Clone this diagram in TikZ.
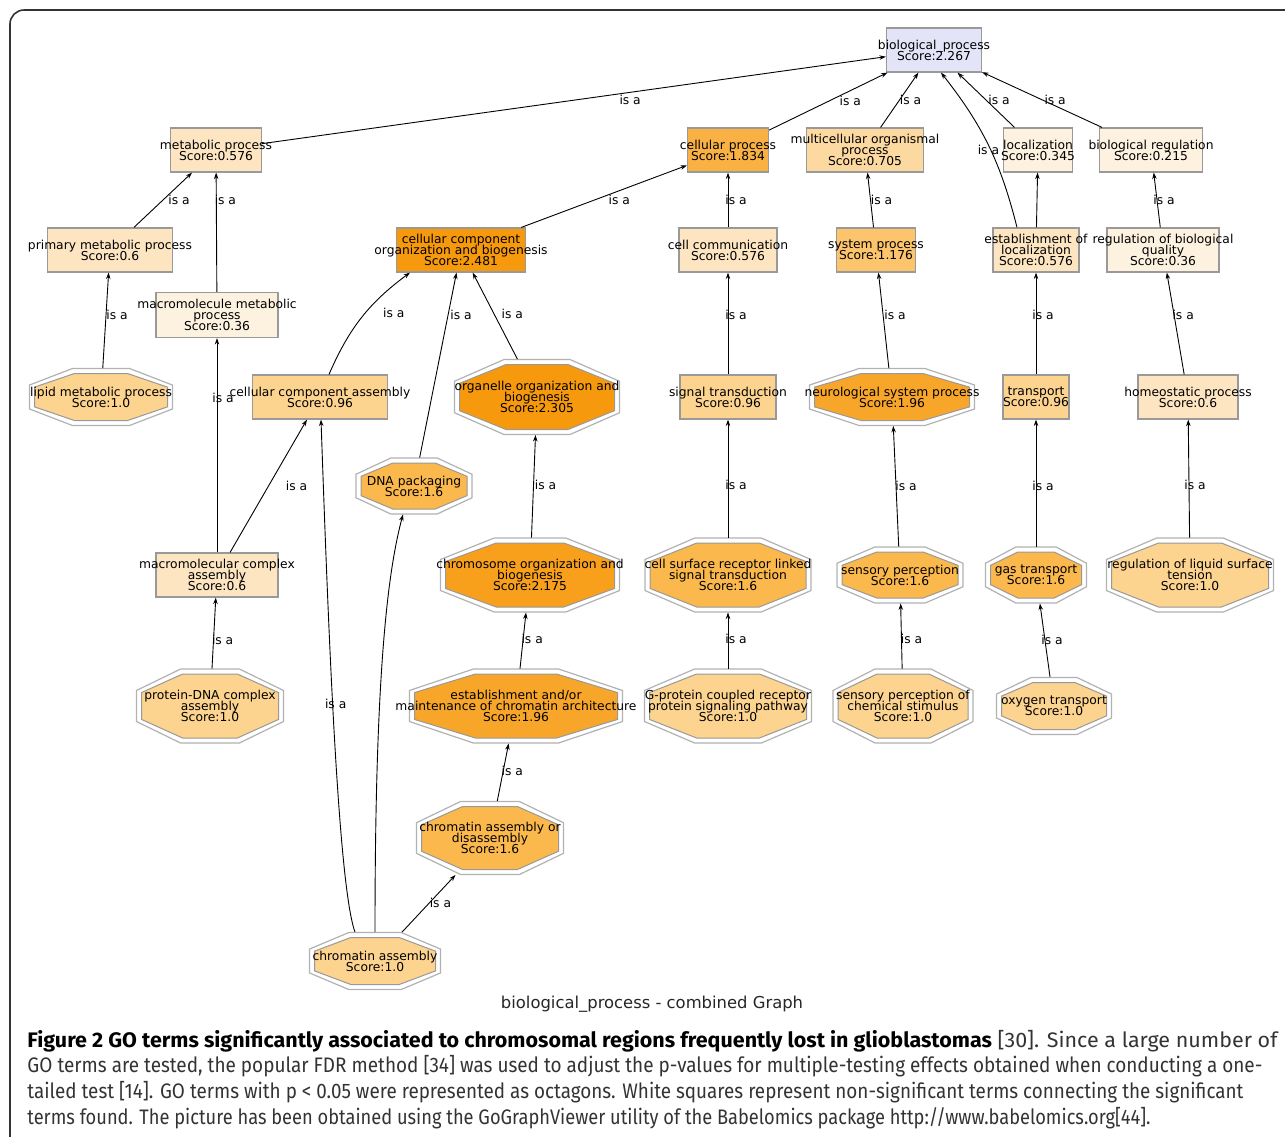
\documentclass[tikz,border=0pt]{standalone}
\usepackage{fontspec}
\setmainfont{DejaVu Sans}
\newfontfamily\capfont{Fira Sans}
\usepackage{graphicx}
\usetikzlibrary{
	arrows.meta,
	positioning,
}

\definecolor{scoreroot}{HTML}{E4E4F8}
\definecolor{score02}{HTML}{FDF1DF}
\definecolor{score06}{HTML}{FDE5C2}
\definecolor{score07}{HTML}{FDD9A2}
\definecolor{score10}{HTML}{FCD38F}
\definecolor{score12}{HTML}{FCC46C}
\definecolor{score16}{HTML}{FBB84C}
\definecolor{score18}{HTML}{F9B144}
\definecolor{score20}{HTML}{F8A62A}
\definecolor{score22}{HTML}{F8A01C}
\definecolor{score24}{HTML}{F7990C}

\newcommand{\gofont}{\fontsize{12.3}{11}\selectfont}
% text of a term, hanging over the box when it is wider
\newcommand{\termtext}[1]{\makebox[0pt]{\vbox{\let\\\cr\baselineskip=11pt\lineskiplimit=-\maxdimen
			\halign{\hfil##\hfil\cr#1\crcr}}}}

\tikzset{goterm/.style={
		% The shape:
		rectangle,
		% The size:
		minimum height=44,
		inner sep=0pt,
		% The border:
		draw=black!40,
		line width=1.2pt,
		font=\gofont,
}}
\tikzset{octanode/.style={rectangle, inner sep=0pt, font=\gofont}}
\tikzset{octarim/.style={fill=white, draw=black!30, line width=1.2pt}}
\tikzset{octabody/.style={draw=black!40, line width=1pt}}
\tikzset{isa/.style={font=\gofont, anchor=west, inner sep=0pt}}
\tikzset{capline/.style={anchor=base west, inner sep=0pt, font=\capfont\fontsize{21}{25}\selectfont, text=black!80}}

% significant term: name, centre, half width, half height, colour, text
\newcommand{\octaterm}[6]{%
	\begin{scope}[shift={#2}]
		\draw[octarim, xscale=#3, yscale=#4] (-1,-.42) -- (-1,.42) -- (-.4,1) -- (.4,1) -- (1,.42) -- (1,-.42) -- (.4,-1) -- (-.4,-1) -- cycle;
		\draw[octabody, fill=#5, xscale=#3-5, yscale=#4-5] (-1,-.42) -- (-1,.42) -- (-.4,1) -- (.4,1) -- (1,.42) -- (1,-.42) -- (.4,-1) -- (-.4,-1) -- cycle;
	\end{scope}
	\node (#1)[octanode, minimum width=2*#3, minimum height=2*#4] at #2 {\termtext{#6}};
}

\begin{document}
\begin{tikzpicture}[
	x=1pt, y=1pt,
	>={Stealth[length=6.5pt,width=4.5pt]},
	line width=0.9pt,
	]
	\useasboundingbox (0,0) rectangle (1285,-1136);
	\draw[rounded corners=14pt, line width=1.6pt, black!80] (10,-1200) rectangle (1340,-10);
	
	%% level 0
	\node (bp)[goterm, fill=scoreroot, minimum width=95] at (934,-50) {\termtext{biological\_process\\Score:2.267}};
	
	%% level 1
	\node (metab)[goterm, fill=score06, minimum width=91] at (216,-150) {\termtext{metabolic process\\Score:0.576}};
	\node (cp)[goterm, fill=score18, minimum width=81] at (728,-150) {\termtext{cellular process\\Score:1.834}};
	\node (mult)[goterm, fill=score07, minimum width=117] at (865,-150) {\termtext{multicellular organismal\\process\\Score:0.705}};
	\node (loc)[goterm, fill=score02, minimum width=69] at (1038,-150) {\termtext{localization\\Score:0.345}};
	\node (breg)[goterm, fill=score02, minimum width=103] at (1151,-150) {\termtext{biological regulation\\Score:0.215}};
	
	%% level 2
	\node (prim)[goterm, fill=score06, minimum width=125] at (110,-250) {\termtext{primary metabolic process\\Score:0.6}};
	\node (ccob)[goterm, fill=score24, minimum width=129] at (461,-250) {\termtext{cellular component\\organization and biogenesis\\Score:2.481}};
	\node (cc)[goterm, fill=score06, minimum width=98] at (728,-250) {\termtext{cell communication\\Score:0.576}};
	\node (sysp)[goterm, fill=score12, minimum width=79] at (876,-250) {\termtext{system process\\Score:1.176}};
	\node (estloc)[goterm, fill=score06, minimum width=86] at (1036,-250) {\termtext{establishment of\\localization\\Score:0.576}};
	\node (rbq)[goterm, fill=score02, minimum width=112] at (1163,-250) {\termtext{regulation of biological\\quality\\Score:0.36}};
	\node (mmp)[goterm, fill=score02, minimum width=122, minimum height=45] at (217,-315) {\termtext{macromolecule metabolic\\process\\Score:0.36}};
	
	%% level 3
	\octaterm{lipid}{(101,-397)}{71.5}{28.5}{score10}{lipid metabolic process\\Score:1.0}
	\node (cca)[goterm, fill=score10, minimum width=135] at (320,-397) {\termtext{cellular component assembly\\Score:0.96}};
	\octaterm{org}{(537,-397)}{82.5}{37.5}{score24}{organelle organization and\\biogenesis\\Score:2.305}
	\node (st)[goterm, fill=score10, minimum width=96] at (728,-397) {\termtext{signal transduction\\Score:0.96}};
	\octaterm{neuro}{(892,-397)}{82.5}{28.5}{score20}{neurological system process\\Score:1.96}
	\node (tr)[goterm, fill=score10, minimum width=66] at (1036,-397) {\termtext{transport\\Score:0.96}};
	\node (homeo)[goterm, fill=score06, minimum width=100] at (1188,-397) {\termtext{homeostatic process\\Score:0.6}};
	\octaterm{dna}{(414,-486)}{58}{28}{score16}{DNA packaging\\Score:1.6}
	
	%% level 4
	\node (mca)[goterm, fill=score06, minimum width=122] at (217,-575) {\termtext{macromolecular complex\\assembly\\Score:0.6}};
	\octaterm{chr}{(530,-575)}{89.5}{37}{score22}{chromosome organization and\\biogenesis\\Score:2.175}
	\octaterm{csr}{(728,-575)}{83}{37}{score16}{cell surface receptor linked\\signal transduction\\Score:1.6}
	\octaterm{sens}{(900,-575)}{63}{28}{score16}{sensory perception\\Score:1.6}
	\octaterm{gas}{(1036,-575)}{50.5}{28}{score16}{gas transport\\Score:1.6}
	\octaterm{rlst}{(1190,-575)}{83.5}{37}{score10}{regulation of liquid surface\\tension\\Score:1.0}
	
	%% level 5
	\octaterm{pdna}{(210,-706)}{73.5}{37}{score10}{protein-DNA complex\\assembly\\Score:1.0}
	\octaterm{ema}{(516,-706)}{106.5}{37}{score20}{establishment and/or\\maintenance of chromatin architecture\\Score:1.96}
	\octaterm{gp}{(728,-706)}{83.5}{37}{score10}{G-protein coupled receptor\\protein signaling pathway\\Score:1.0}
	\octaterm{spcs}{(903,-706)}{70}{37}{score10}{sensory perception of\\chemical stimulus\\Score:1.0}
	\octaterm{oxy}{(1054,-706)}{57.5}{28.5}{score10}{oxygen transport\\Score:1.0}
	
	%% level 6 and 7
	\octaterm{cad}{(490,-838)}{73.5}{36.5}{score16}{chromatin assembly or\\disassembly\\Score:1.6}
	\octaterm{ca}{(375,-961)}{65.5}{28.5}{score10}{chromatin assembly\\Score:1.0}
	
	%% into biological_process
	\draw[->] (metab) to node[isa, pos=.59, anchor=north, yshift=-2] {is a} (bp);
	\draw[->] (cp) to node[isa, pos=.5, xshift=11] {is a} (bp);
	\draw[->] (mult) to node[isa, pos=.5] {is a} (bp);
	\draw[->] (loc) to node[isa, pos=.5, xshift=2] {is a} (bp);
	\draw[->] (breg) to node[isa, pos=.5, xshift=2] {is a} (bp);
	\draw[->] ([xshift=-19]estloc.north) to[bend right=12] node[isa, pos=.5, anchor=center, yshift=-5] {is a} ([xshift=7]bp.south);
	
	%% into level 1
	\draw[->] (prim) to node[isa, pos=.5, xshift=5] {is a} (metab);
	\draw[->] (mmp) to node[isa, pos=.77, xshift=-2] {is a} (metab);
	\draw[->] (ccob) to node[isa, pos=.44, xshift=14] {is a} (cp);
	\draw[->] (cc) to node[isa, pos=.5, xshift=-3] {is a} (cp);
	\draw[->] (sysp) to node[isa, pos=.5] {is a} (mult);
	\draw[->] (estloc) to (loc);
	\draw[->] (rbq) to node[isa, pos=.5, xshift=-4] {is a} (breg);
	
	%% into level 2
	\draw[->] (lipid) to node[isa, pos=.56] {is a} (prim);
	\draw[->] (mca) to node[isa, pos=.72, xshift=-5] {is a} (mmp);
	\draw[->] ([xshift=9]cca.north) to[bend left=15] node[isa, pos=.55, xshift=17] {is a} ([xshift=-51]ccob.south);
	\draw[->] (dna) to node[isa, pos=.77, xshift=2] {is a} (ccob);
	\draw[->] (org) to node[isa, pos=.52, xshift=7] {is a} (ccob);
	\draw[->] (st) to node[isa, pos=.58, xshift=-3] {is a} (cc);
	\draw[->] (neuro) to node[isa, pos=.56, xshift=1] {is a} (sysp);
	\draw[->] (tr) to node[isa, pos=.58, xshift=-4] {is a} (estloc);
	\draw[->] (homeo) to node[isa, pos=.58, xshift=-2] {is a} (rbq);
	
	%% into level 3
	\draw[->] (mca) to node[isa, pos=.5, xshift=17] {is a} (cca);
	\draw[->] ([xshift=-20]ca.north) to[out=110, in=-88, out distance=50, in distance=200] node[isa, pos=.55, xshift=-8] {is a} ([xshift=1]cca.south);
	\draw[->] (ca.north) to[out=90, in=-105, out distance=245, in distance=65] ([xshift=-11]dna.south);
	\draw[->] (chr) to node[isa, pos=.51, xshift=1] {is a} (org);
	\draw[->] (csr) to node[isa, pos=.45, xshift=-3] {is a} (st);
	\draw[->] (sens) to node[isa, pos=.5, xshift=-1] {is a} (neuro);
	\draw[->] (gas) to node[isa, pos=.48, xshift=-4] {is a} (tr);
	\draw[->] (rlst) to node[isa, pos=.45, xshift=-5] {is a} (homeo);
	
	%% into level 4 and below
	\draw[->] (pdna) to node[isa, pos=.41, xshift=-2] {is a} (mca);
	\draw[->] (ema) to node[isa, pos=.52, xshift=-2] {is a} (chr);
	\draw[->] (gp) to node[isa, pos=.52, xshift=-3] {is a} (csr);
	\draw[->] (spcs) to node[isa, pos=.45, xshift=-1] {is a} (sens);
	\draw[->] (oxy) to node[isa, pos=.5, xshift=-4] {is a} (gas);
	\draw[->] (cad) to node[isa, pos=.52, xshift=-2] {is a} (ema);
	\draw[->] (ca) to node[isa, pos=.51] {is a} (cad);
	
	%% title and caption
	\node (gtitle)[font=\fontsize{16.4}{18}\selectfont, text=black!85] at (652,-1004) {biological\_process - combined Graph};
	\node (cap1)[capline] at (27,-1047) {\resizebox{1250pt}{\height}{\textbf{\color{black}Figure 2 GO terms significantly associated to chromosomal regions frequently lost in glioblastomas} [30]. Since a large number of}};
	\node (cap2)[capline] at (27,-1072) {\resizebox{1235pt}{\height}{GO terms are tested, the popular FDR method [34] was used to adjust the p-values for multiple-testing effects obtained when conducting a one-}};
	\node (cap3)[capline] at (27,-1098) {\resizebox{1216pt}{\height}{tailed test [14]. GO terms with p < 0.05 were represented as octagons. White squares represent non-significant terms connecting the significant}};
	\node (cap4)[capline] at (27,-1124) {\resizebox{1123pt}{\height}{terms found. The picture has been obtained using the GoGraphViewer utility of the Babelomics package http://www.babelomics.org[44].}};
	
\end{tikzpicture}
\end{document}
